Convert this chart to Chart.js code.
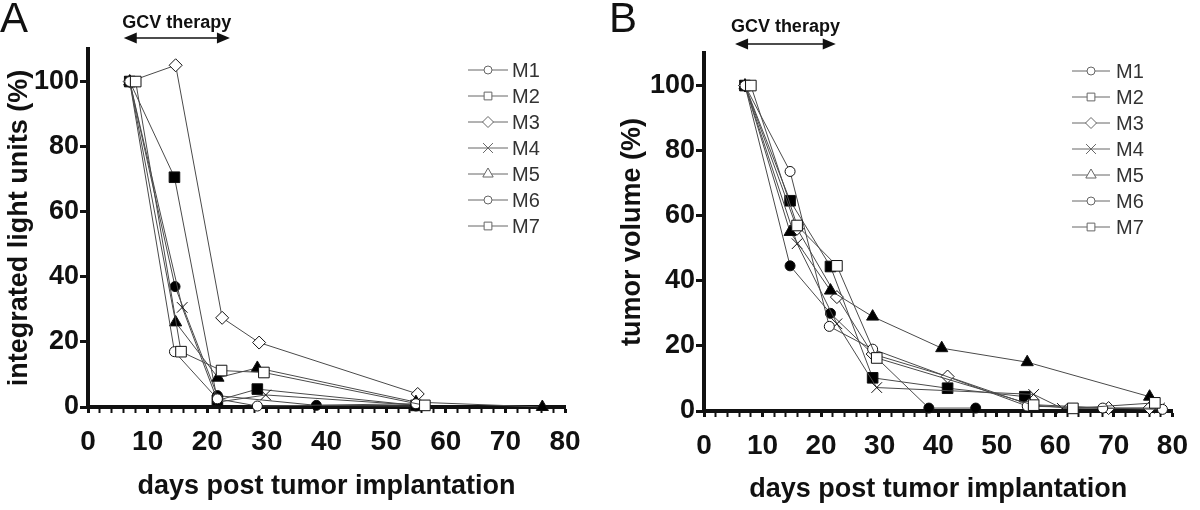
<!DOCTYPE html>
<html><head><meta charset="utf-8">
<script src="https://cdn.jsdelivr.net/npm/chart.js@4/dist/chart.umd.min.js"></script>
<style>
html,body{margin:0;padding:0;background:#fff;width:1200px;height:510px;overflow:hidden;}
.panel{position:absolute;top:0;width:600px;height:510px;}
.letter{position:absolute;top:-3px;font-family:'Liberation Sans',Arial,sans-serif;font-size:42px;line-height:42px;color:#111;}
</style></head><body>
<div class="panel" style="left:0"><canvas id="cA" width="600" height="510"></canvas></div>
<div class="panel" style="left:600px"><canvas id="cB" width="600" height="510"></canvas></div>
<div class="letter" style="left:0">A</div>
<div class="letter" style="left:609px">B</div>
<script>
// ---------- DATA ----------
const seriesNames = ['M1','M2','M3','M4','M5','M6','M7'];
const xTickValues = [0,10,20,30,40,50,60,70,80];
const yTickValues = [0,20,40,60,80,100];
const gcvTherapyDays = [6, 23.8];       // panel A arrow span (days)
const gcvTherapyDaysB = [5.3, 22.5];    // panel B arrow span (days)

// Panel A: integrated light units (%)
const lightM1Days = [7, 14.6, 21.7, 38.3, 55];
const lightM1Vals = [100, 37, 3.5, 0.5, 0.3];
const lightM2Days = [7, 14.5, 21.7, 28.4, 55];
const lightM2Vals = [100, 70.6, 2, 5.5, 0.5];
const lightM3Days = [7, 14.7, 22.5, 28.7, 55.3];
const lightM3Vals = [100, 105, 27.4, 19.8, 4];
const lightM4Days = [7, 15.8, 21.8, 29.8, 55.5];
const lightM4Vals = [100, 30.6, 1.5, 3.7, 0.5];
const lightM5Days = [7, 14.7, 21.8, 28.4, 55, 76.2];
const lightM5Vals = [100, 26, 9, 12, 1.5, 0];
const lightM6Days = [7, 14.5, 21.7, 28.4, 55];
const lightM6Vals = [100, 17, 2.5, 0.3, 1];
const lightM7Days = [8, 15.6, 22.4, 29.5, 56.5];
const lightM7Vals = [100, 17, 11.2, 10.6, 0.5];

// Panel B: tumor volume (%)
const volM1Days = [7, 14.7, 21.6, 38.4, 46.4];
const volM1Vals = [100, 44.6, 30, 0.9, 0.9];
const volM2Days = [7, 14.7, 21.6, 28.8, 41.6, 54.8];
const volM2Vals = [100, 64.6, 44.4, 10.2, 7, 4.4];
const volM3Days = [7, 15.9, 22.7, 28.8, 41.6, 55.5, 69.1, 76.1];
const volM3Vals = [100, 56, 35, 17.5, 10.6, 2, 0.9, 0.9];
const volM4Days = [7, 15.9, 22.7, 29.5, 56.3, 61.2, 77.8];
const volM4Vals = [100, 51.4, 26.8, 7.2, 5.1, 0.8, 0.9];
const volM5Days = [7, 14.7, 21.6, 28.8, 40.6, 55.2, 76.1];
const volM5Vals = [100, 55, 37, 29, 19.3, 15, 4.4];
const volM6Days = [7, 14.7, 21.4, 28.8, 55.2, 68.1, 78.3];
const volM6Vals = [100, 73.6, 26, 19, 1.5, 0.9, 0.5];
const volM7Days = [8, 15.9, 22.7, 29.5, 56.3, 63, 77];
const volM7Vals = [100, 57, 44.6, 16.3, 1.8, 0.8, 2.5];

// ---------- STYLE ----------
const markerStyles = [
  {pointStyle:'circle',   pointRadius:5,   fill:'#000', legendR:4},
  {pointStyle:'rect',     pointRadius:7.5, fill:'#000', legendR:5.5},
  {pointStyle:'rectRot',  pointRadius:6.5, fill:'#fff', legendR:5.5},
  {pointStyle:'crossRot', pointRadius:7.5, fill:'#fff', legendR:7},
  {pointStyle:'triangle', pointRadius:7,   fill:'#000', legendR:6},
  {pointStyle:'circle',   pointRadius:5,   fill:'#fff', legendR:4},
  {pointStyle:'rect',     pointRadius:7.5, fill:'#fff', legendR:5.5}
];
const SANS = "'Liberation Sans',Arial,sans-serif";

function buildDatasets(daysArr, valsArr) {
  return seriesNames.map((name, i) => {
    const m = markerStyles[i];
    return {
      label: name,
      order: seriesNames.length - i,
      data: daysArr[i].map((d, j) => ({x: d, y: valsArr[i][j]})),
      showLine: true,
      borderColor: '#4a4a4a',
      borderWidth: 1,
      pointStyle: m.pointStyle,
      pointRadius: m.pointRadius,
      pointHoverRadius: m.pointRadius,
      pointBackgroundColor: m.fill,
      pointBorderColor: '#111',
      pointBorderWidth: 1,
      legendR: m.legendR,
      clip: false,
      tension: 0
    };
  });
}

const lineLegend = {
  id: 'lineLegend',
  afterDatasetsDraw(chart, args, opts) {
    const ctx = chart.ctx;
    chart.data.datasets.forEach((ds, i) => {
      const y = opts.y0 + i * opts.dy;
      ctx.save();
      ctx.strokeStyle = '#666'; ctx.lineWidth = 1;
      ctx.beginPath(); ctx.moveTo(opts.x0, y); ctx.lineTo(opts.x1, y); ctx.stroke();
      ctx.fillStyle = '#fff'; ctx.strokeStyle = '#666';
      Chart.helpers.drawPoint(ctx, {pointStyle: ds.pointStyle, radius: ds.legendR, borderWidth: 1, rotation: 0}, (opts.x0 + opts.x1) / 2, y);
      ctx.fillStyle = '#333';
      ctx.font = '20px ' + SANS;
      ctx.textBaseline = 'middle'; ctx.textAlign = 'left';
      ctx.fillText(ds.label, opts.tx, y + 1);
      ctx.restore();
    });
  }
};

const gcvArrow = {
  id: 'gcvArrow',
  afterDraw(chart, args, opts) {
    const ctx = chart.ctx, xs = chart.scales.x;
    const x1 = xs.getPixelForValue(opts.from), x2 = xs.getPixelForValue(opts.to);
    const y = chart.chartArea.top - opts.arrowAbove;
    const hl = 13, hh = 5.5;
    ctx.save();
    ctx.strokeStyle = '#111'; ctx.fillStyle = '#111'; ctx.lineWidth = 1.3;
    ctx.beginPath(); ctx.moveTo(x1 + hl - 1, y); ctx.lineTo(x2 - hl + 1, y); ctx.stroke();
    ctx.beginPath(); ctx.moveTo(x1, y); ctx.lineTo(x1 + hl, y - hh); ctx.lineTo(x1 + hl, y + hh); ctx.closePath(); ctx.fill();
    ctx.beginPath(); ctx.moveTo(x2, y); ctx.lineTo(x2 - hl, y - hh); ctx.lineTo(x2 - hl, y + hh); ctx.closePath(); ctx.fill();
    ctx.font = 'bold 18px ' + SANS;
    ctx.textAlign = 'center'; ctx.textBaseline = 'middle';
    ctx.fillText(opts.text, (x1 + x2) / 2, chart.chartArea.top - opts.textAbove);
    ctx.restore();
  }
};

function makeChart(id, p) {
  return new Chart(document.getElementById(id), {
    type: 'scatter',
    data: {datasets: buildDatasets(p.days, p.vals)},
    plugins: [lineLegend, gcvArrow],
    options: {
      responsive: false, animation: false, devicePixelRatio: 1,
      layout: {padding: {left: 0, top: p.top, right: p.right, bottom: 0}},
      plugins: {
        legend: {display: false}, tooltip: {enabled: false},
        lineLegend: p.legend,
        gcvArrow: {from: p.gcv[0], to: p.gcv[1], arrowAbove: p.arrowAbove, textAbove: 26, text: 'GCV therapy'}
      },
      scales: {
        x: {
          type: 'linear', position: 'bottom', min: 0, max: 80,
          afterFit: s => { s.height = p.xHeight; },
          border: {display: true, color: '#111', width: 4},
          grid: {drawOnChartArea: false, drawTicks: true, tickLength: 6, color: '#111',
                 tickWidth: c => (c.tick && c.tick.value % 10 === 0) ? 3 : 2},
          ticks: {stepSize: 2, autoSkip: false, maxRotation: 0, minRotation: 0, padding: 12, color: '#111',
                  font: {family: SANS, size: 28, weight: 'bold'},
                  callback: v => xTickValues.includes(v) ? String(v) : ''},
          title: {display: true, text: 'days post tumor implantation', color: '#111',
                  font: {family: SANS, size: 27, weight: 'bold'}, padding: {top: 0, bottom: p.xTitlePad}}
        },
        y: {
          type: 'linear', min: 0, max: 110,
          afterBuildTicks: s => { s.ticks = yTickValues.map(v => ({value: v})); },
          afterFit: s => { s.width = p.left; },
          border: {display: true, color: '#111', width: 4},
          grid: {drawOnChartArea: false, drawTicks: true, tickLength: 8, color: '#111', tickWidth: 3},
          ticks: {stepSize: 20, padding: 1, color: '#111', font: {family: SANS, size: 27, weight: 'bold'}},
          title: {display: true, text: p.yTitle, color: '#111',
                  font: {family: SANS, size: 27, weight: 'bold'}, padding: {top: p.yTitlePad, bottom: 0}}
        }
      }
    }
  });
}

makeChart('cA', {
  days: [lightM1Days, lightM2Days, lightM3Days, lightM4Days, lightM5Days, lightM6Days, lightM7Days],
  vals: [lightM1Vals, lightM2Vals, lightM3Vals, lightM4Vals, lightM5Vals, lightM6Vals, lightM7Vals],
  left: 88, top: 49, right: 35, xHeight: 103, xTitlePad: 7, yTitlePad: 3,
  yTitle: 'integrated light units (%)', gcv: gcvTherapyDays, arrowAbove: 11,
  legend: {x0: 468, x1: 508, tx: 512, y0: 70, dy: 26}
});
makeChart('cB', {
  days: [volM1Days, volM2Days, volM3Days, volM4Days, volM5Days, volM6Days, volM7Days],
  vals: [volM1Vals, volM2Vals, volM3Vals, volM4Vals, volM5Vals, volM6Vals, volM7Vals],
  left: 104, top: 53, right: 27, xHeight: 99, xTitlePad: 4, yTitlePad: 16,
  yTitle: 'tumor volume (%)', gcv: gcvTherapyDaysB, arrowAbove: 9,
  legend: {x0: 472, x1: 510, tx: 516, y0: 71, dy: 26}
});
</script>
</body></html>
